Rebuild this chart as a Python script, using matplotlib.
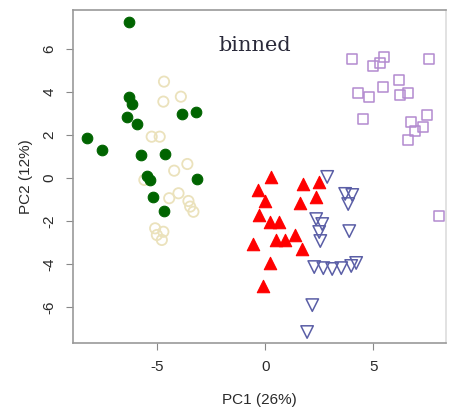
import matplotlib
matplotlib.use("Agg")
import matplotlib.pyplot as plt

# PCA scores per group (PC1, PC2)
green_pc1 = [-6.30, -6.30, -6.17, -6.40, -5.94, -3.83, -3.19, -8.23, -7.53, -5.73,
             -4.63, -5.46, -5.32, -3.16, -5.17, -4.66]
green_pc2 = [7.26, 3.77, 3.44, 2.84, 2.51, 2.98, 3.07, 1.86, 1.29, 1.08,
             1.10, 0.07, -0.09, -0.03, -0.88, -1.53]

beige_pc1 = [-4.68, -3.90, -4.71, -5.25, -4.88, -3.60, -4.21, -5.59, -4.01, -4.44,
             -3.55, -3.47, -3.32, -5.09, -4.71, -5.01, -4.78]
beige_pc2 = [4.48, 3.78, 3.55, 1.92, 1.92, 0.65, 0.34, -0.09, -0.71, -0.94,
             -1.07, -1.33, -1.57, -2.34, -2.50, -2.65, -2.88]

red_pc1 = [0.28, -0.35, 0.00, 1.73, 2.50, 2.34, 1.60, -0.28, 0.23, 0.62,
           -0.54, 0.49, 0.93, 1.39, 1.70, 0.23, -0.08]
red_pc2 = [0.06, -0.58, -1.05, -0.30, -0.19, -0.87, -1.18, -1.72, -2.03, -2.03,
           -3.05, -2.88, -2.88, -2.65, -3.32, -3.95, -5.00]

blue_pc1 = [2.87, 3.70, 4.03, 3.84, 2.36, 2.64, 2.50, 2.55, 3.89, 2.27,
            2.69, 3.10, 3.52, 3.98, 4.21, 2.18, 1.94]
blue_pc2 = [0.05, -0.74, -0.79, -1.21, -1.91, -2.14, -2.51, -2.93, -2.47, -4.14,
            -4.19, -4.23, -4.19, -4.09, -3.95, -5.91, -7.16]

purple_pc1 = [4.03, 5.51, 5.32, 5.00, 7.59, 4.31, 4.81, 5.46, 6.20, 6.25,
              6.62, 4.54, 6.76, 7.50, 7.31, 6.94, 6.62, 8.06]
purple_pc2 = [5.53, 5.63, 5.35, 5.21, 5.53, 3.95, 3.77, 4.23, 4.56, 3.86,
              3.95, 2.74, 2.60, 2.93, 2.37, 2.19, 1.77, -1.77]

x_ticks = [-5, 0, 5]
y_ticks = [-6, -4, -2, 0, 2, 4, 6]

plt.rcParams['font.family'] = ['Liberation Sans', 'DejaVu Sans']

fig = plt.figure(figsize=(4.49, 4.09), dpi=100)
ax = fig.add_axes([0.1626, 0.1614, 0.8314, 0.8142])

ax.scatter(beige_pc1, beige_pc2, s=55, marker='o', facecolors='none',
           edgecolors='#EBE2BC', linewidths=1.3, zorder=2)
ax.scatter(green_pc1, green_pc2, s=58, marker='o', facecolors='#006400',
           edgecolors='#006400', linewidths=0.8, zorder=3)
ax.scatter(red_pc1, red_pc2, s=80, marker='^', facecolors='#FF0000',
           edgecolors='#FF0000', linewidths=0.8, zorder=3)
ax.scatter(blue_pc1, blue_pc2, s=80, marker='v', facecolors='none',
           edgecolors='#5A5EA6', linewidths=1.1, zorder=3)
ax.scatter(purple_pc1, purple_pc2, s=50, marker='s', facecolors='none',
           edgecolors='#B38AD0', linewidths=1.1, zorder=3)

ax.text(-0.46, 6.14, 'binned', family=['DejaVu Serif'],
        fontsize=15, color='#2A2A3A', ha='center', va='center')

ax.set_xlim(-8.89, 8.38)
ax.set_ylim(-7.67, 7.81)
ax.set_xticks(x_ticks)
ax.set_yticks(y_ticks)
ax.set_xticklabels([str(v) for v in x_ticks], fontsize=11, color='#2A2A2A')
ax.set_yticklabels([str(v) for v in y_ticks], fontsize=11, color='#2A2A2A',
                   rotation=90, va='center')
ax.tick_params(axis='both', length=5, width=0.8, color='#888888', pad=7)

for side in ['left', 'bottom', 'top', 'right']:
    ax.spines[side].set_color('#999999')
    ax.spines[side].set_linewidth(1.2)
ax.spines['right'].set_color('#DDDDDD')

ax.set_xlabel('PC1 (26%)', fontsize=11, color='#2A2A2A', labelpad=14)
ax.set_ylabel('PC2 (12%)', fontsize=11, color='#2A2A2A', labelpad=7)

fig.savefig('out.png', dpi=100)
